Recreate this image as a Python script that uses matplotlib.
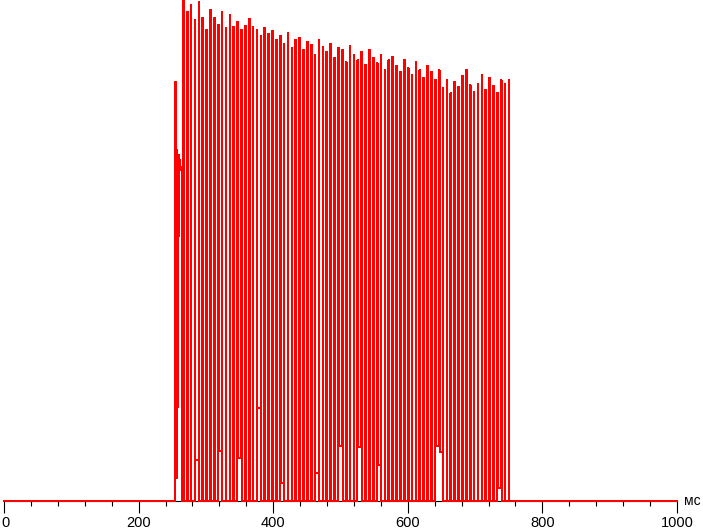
import matplotlib
matplotlib.use("Agg")
import matplotlib.pyplot as plt
from matplotlib.ticker import MultipleLocator
from matplotlib.transforms import ScaledTranslation

plt.rcParams["font.family"] = ["Liberation Sans", "DejaVu Sans"]

# leading irregular burst (ms, level %)
lead_t = [254.0, 254.0, 255.5, 255.5, 257.2, 257.2, 260.0, 263.0, 264.0, 264.0]
lead_y = [0.0, 83.6, 83.6, 70.0, 70.0, 4.6, 69.0, 66.0, 66.0, 0.0]

# main pulse train
train_start = 266.0   # ms, first rise
train_period = 5.76   # ms
train_high = 1.0      # ms, width of the high part

pulse_peaks = [
    99.8, 97.6, 99.0, 96.0, 99.6, 96.4, 94.0, 98.0, 96.4, 95.0,
    97.6, 94.4, 97.0, 94.6, 95.6, 94.0, 94.8, 96.2, 94.6, 94.0,
    92.8, 94.4, 93.2, 93.8, 92.0,
    92.8, 91.2, 93.4, 90.4, 92.0, 92.4, 90.0, 91.6, 91.0, 89.0,
    92.0, 90.6, 89.6, 91.2, 88.4, 90.4, 90.0, 87.6, 90.8, 89.0,
    88.0, 89.6, 87.0, 90.0, 88.4, 87.4, 89.0, 86.0, 88.0, 88.6,
    86.8, 85.6, 88.0, 86.4, 85.0, 87.6, 86.0, 84.4, 86.8, 85.6,
    84.0, 86.0,
    82.4, 84.0, 81.4, 83.6, 82.6, 84.8, 86.0, 83.0, 81.6, 83.2,
    85.0, 82.0, 84.4, 82.8, 81.4, 84.0, 83.2, 84.0,
]

# pulses whose low part does not return to zero
partial_idx = [3, 9, 14, 19, 25, 34, 40, 45, 50, 65, 66, 81]
partial_low = [8.2, 10.0, 8.6, 18.6, 3.6, 5.6, 11.0, 10.8, 7.2, 11.0, 9.8, 2.6]

x_major = [0, 200, 400, 600, 800, 1000]

# build the trace
lows = [0.0] * len(pulse_peaks)
for i, v in zip(partial_idx, partial_low):
    lows[i] = v

t = [0.0] + lead_t
y = [0.0] + lead_y
prev_low = 0.0
for i, pk in enumerate(pulse_peaks):
    t0 = train_start + i * train_period
    t += [t0, t0, t0 + train_high, t0 + train_high]
    y += [prev_low, pk, pk, lows[i]]
    prev_low = lows[i]
t += [t[-1], 1000.0]
y += [0.0, 0.0]

fig = plt.figure(figsize=(7.03, 5.30), dpi=100)
ax = fig.add_axes([4 / 703, 29 / 530, 673 / 703, 501 / 530])
ax.plot(t, y, color="#ff0000", lw=0.72, clip_on=False, antialiased=False, zorder=3)
# thicker zero line outside the burst
ax.plot([0, 254, None, 752, 1000], [0, 0, None, 0, 0], color="#ff0000", lw=1.4,
        clip_on=False, zorder=3)

ax.set_xlim(0, 1000)
ax.set_ylim(0, 100)
for s in ["top", "left", "right"]:
    ax.spines[s].set_visible(False)
ax.spines["bottom"].set_linewidth(0.8)
ax.set_yticks([])
ax.set_xticks(x_major)
ax.set_xticklabels([str(v) for v in x_major], fontsize=10.5)
ax.xaxis.set_minor_locator(MultipleLocator(40))
ax.tick_params(axis="x", which="major", length=8.5, width=0.8, pad=2)
ax.tick_params(axis="x", which="minor", length=3.6, width=0.8)
ax.patch.set_alpha(0)

# keep the "0" label inside the left edge
first = ax.get_xticklabels()[0]
first.set_transform(first.get_transform() + ScaledTranslation(1 / 100, 0, fig.dpi_scale_trans))

fig.text(684 / 703, 25 / 530, "мс", fontsize=10, va="baseline", ha="left")

fig.savefig("out.png", dpi=100)
